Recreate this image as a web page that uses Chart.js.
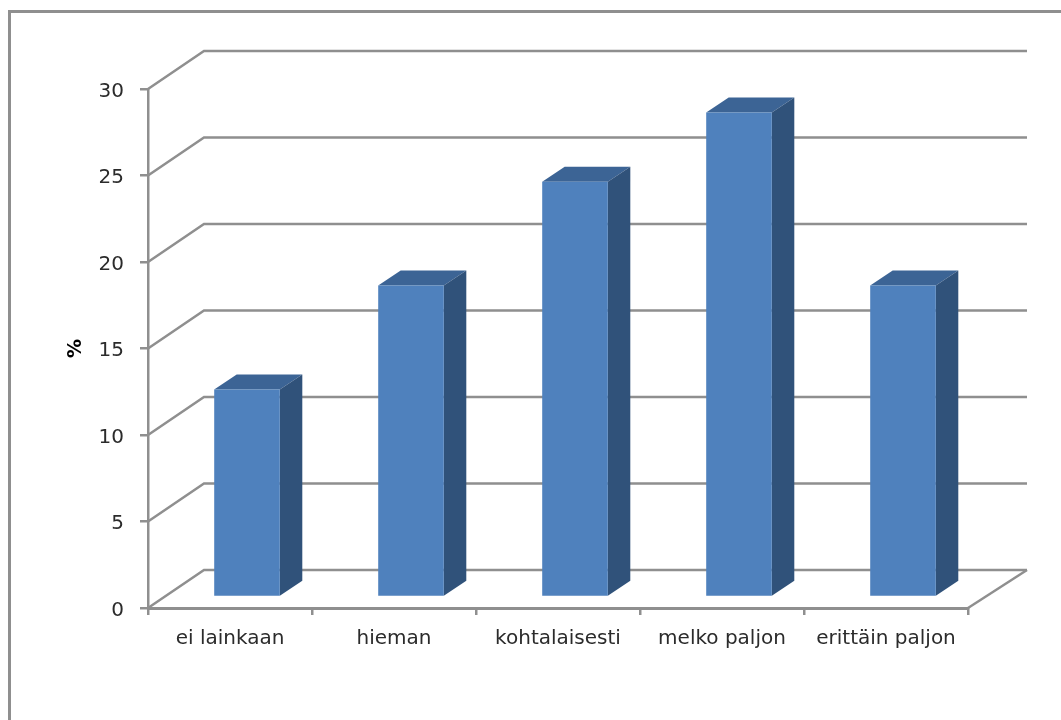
<!DOCTYPE html>
<html>
<head>
<meta charset="utf-8">
<style>
  html, body { margin: 0; padding: 0; background: #fff; overflow: hidden; }
  canvas { display: block; }
</style>
<script src="https://cdn.jsdelivr.net/npm/chart.js@4"></script>
</head>
<body>
<canvas id="chart" width="1061" height="720"></canvas>
<script>
const categories = ["ei lainkaan", "hieman", "kohtalaisesti", "melko paljon", "erittäin paljon"];
const values = [12, 18, 24, 28, 18];
const yMin = 0;
const yMax = 30;
const yStep = 5;
const yTitle = "%";

const lineColor = "#8f8f8f";
const textColor = "#2b2b2b";
const frontColor = "#4f81bd";
const topColor = "#3c6495";
const sideColor = "#30527a";

// how far the walls and the bars are pushed back for the 3D look
const wallDepth = { x: 56, y: -38 };
const wallRightDepth = 59;
const barShift = { x: 17, y: -11 };
const barDepth = { x: 22.5, y: -15 };

function fillPoly(ctx, color, points) {
  ctx.beginPath();
  points.forEach((p, i) => (i ? ctx.lineTo(p[0], p[1]) : ctx.moveTo(p[0], p[1])));
  ctx.closePath();
  ctx.fillStyle = color;
  ctx.fill();
}

// outer frame, runs off the right and bottom of the page
const framePlugin = {
  id: "frame",
  beforeDraw(chart) {
    const ctx = chart.ctx;
    ctx.save();
    ctx.strokeStyle = lineColor;
    ctx.lineWidth = 3;
    ctx.beginPath();
    ctx.moveTo(9.5, chart.height);
    ctx.lineTo(9.5, 11.5);
    ctx.lineTo(chart.width, 11.5);
    ctx.stroke();
    ctx.restore();
  },
};

// back wall gridlines and floor
const wallPlugin = {
  id: "walls",
  beforeDatasetsDraw(chart) {
    const ctx = chart.ctx;
    const { x: xScale, y: yScale } = chart.scales;
    const left = xScale.left;
    const right = xScale.right;
    ctx.save();
    ctx.strokeStyle = lineColor;
    ctx.lineWidth = 2.5;
    yScale.ticks.forEach((tick) => {
      const y = yScale.getPixelForValue(tick.value);
      ctx.beginPath();
      ctx.moveTo(left, y);
      ctx.lineTo(left + wallDepth.x, y + wallDepth.y);
      ctx.lineTo(right + wallRightDepth, y + wallDepth.y);
      ctx.stroke();
    });
    const floor = yScale.getPixelForValue(yMin);
    ctx.beginPath();
    ctx.moveTo(right, floor);
    ctx.lineTo(right + wallRightDepth, floor + wallDepth.y);
    ctx.stroke();
    ctx.restore();
  },
};

// top and side faces, then the library's bar is drawn moved back as the front face
const boxPlugin = {
  id: "boxes",
  beforeDatasetDraw(chart, args) {
    const ctx = chart.ctx;
    ctx.save();
    ctx.translate(barShift.x, barShift.y);
    args.meta.data.forEach((bar) => {
      const { x, y, base, width } = bar.getProps(["x", "y", "base", "width"], true);
      const x0 = x - width / 2;
      const x1 = x + width / 2;
      const dx = barDepth.x;
      const dy = barDepth.y;
      fillPoly(ctx, topColor, [[x0, y], [x0 + dx, y + dy], [x1 + dx, y + dy], [x1, y]]);
      fillPoly(ctx, sideColor, [[x1, y], [x1 + dx, y + dy], [x1 + dx, base + dy], [x1, base]]);
    });
  },
  afterDatasetDraw(chart) {
    chart.ctx.restore();
  },
};

new Chart(document.getElementById("chart"), {
  type: "bar",
  data: {
    labels: categories,
    datasets: [
      {
        data: values,
        backgroundColor: frontColor,
        borderWidth: 0,
        categoryPercentage: 1,
        barPercentage: 0.4,
        clip: false,
      },
    ],
  },
  plugins: [framePlugin, wallPlugin, boxPlugin],
  options: {
    responsive: false,
    animation: false,
    layout: { padding: { top: 89, right: 93, left: 0, bottom: 0 } },
    plugins: {
      legend: { display: false },
      tooltip: { enabled: false },
    },
    scales: {
      x: {
        afterFit(axis) {
          axis.height = 112;
        },
        border: { color: lineColor, width: 3 },
        grid: { drawOnChartArea: false, color: lineColor, lineWidth: 2.5, tickLength: 7 },
        ticks: {
          color: textColor,
          padding: 12,
          maxRotation: 0,
          font: { family: "'DejaVu Sans'", size: 20 },
        },
      },
      y: {
        min: yMin,
        max: yMax,
        afterFit(axis) {
          axis.width = 148;
        },
        border: { color: lineColor, width: 2.5 },
        grid: { drawOnChartArea: false, color: lineColor, lineWidth: 2.5, tickLength: 8 },
        ticks: {
          stepSize: yStep,
          color: textColor,
          padding: 16,
          labelOffset: 2.5,
          font: { family: "'DejaVu Sans'", size: 20 },
        },
        title: {
          display: true,
          text: yTitle,
          color: "#000",
          padding: { top: 65, bottom: 0 },
          font: { family: "'DejaVu Sans'", size: 19, weight: "bold" },
        },
      },
    },
  },
});
</script>
</body>
</html>
